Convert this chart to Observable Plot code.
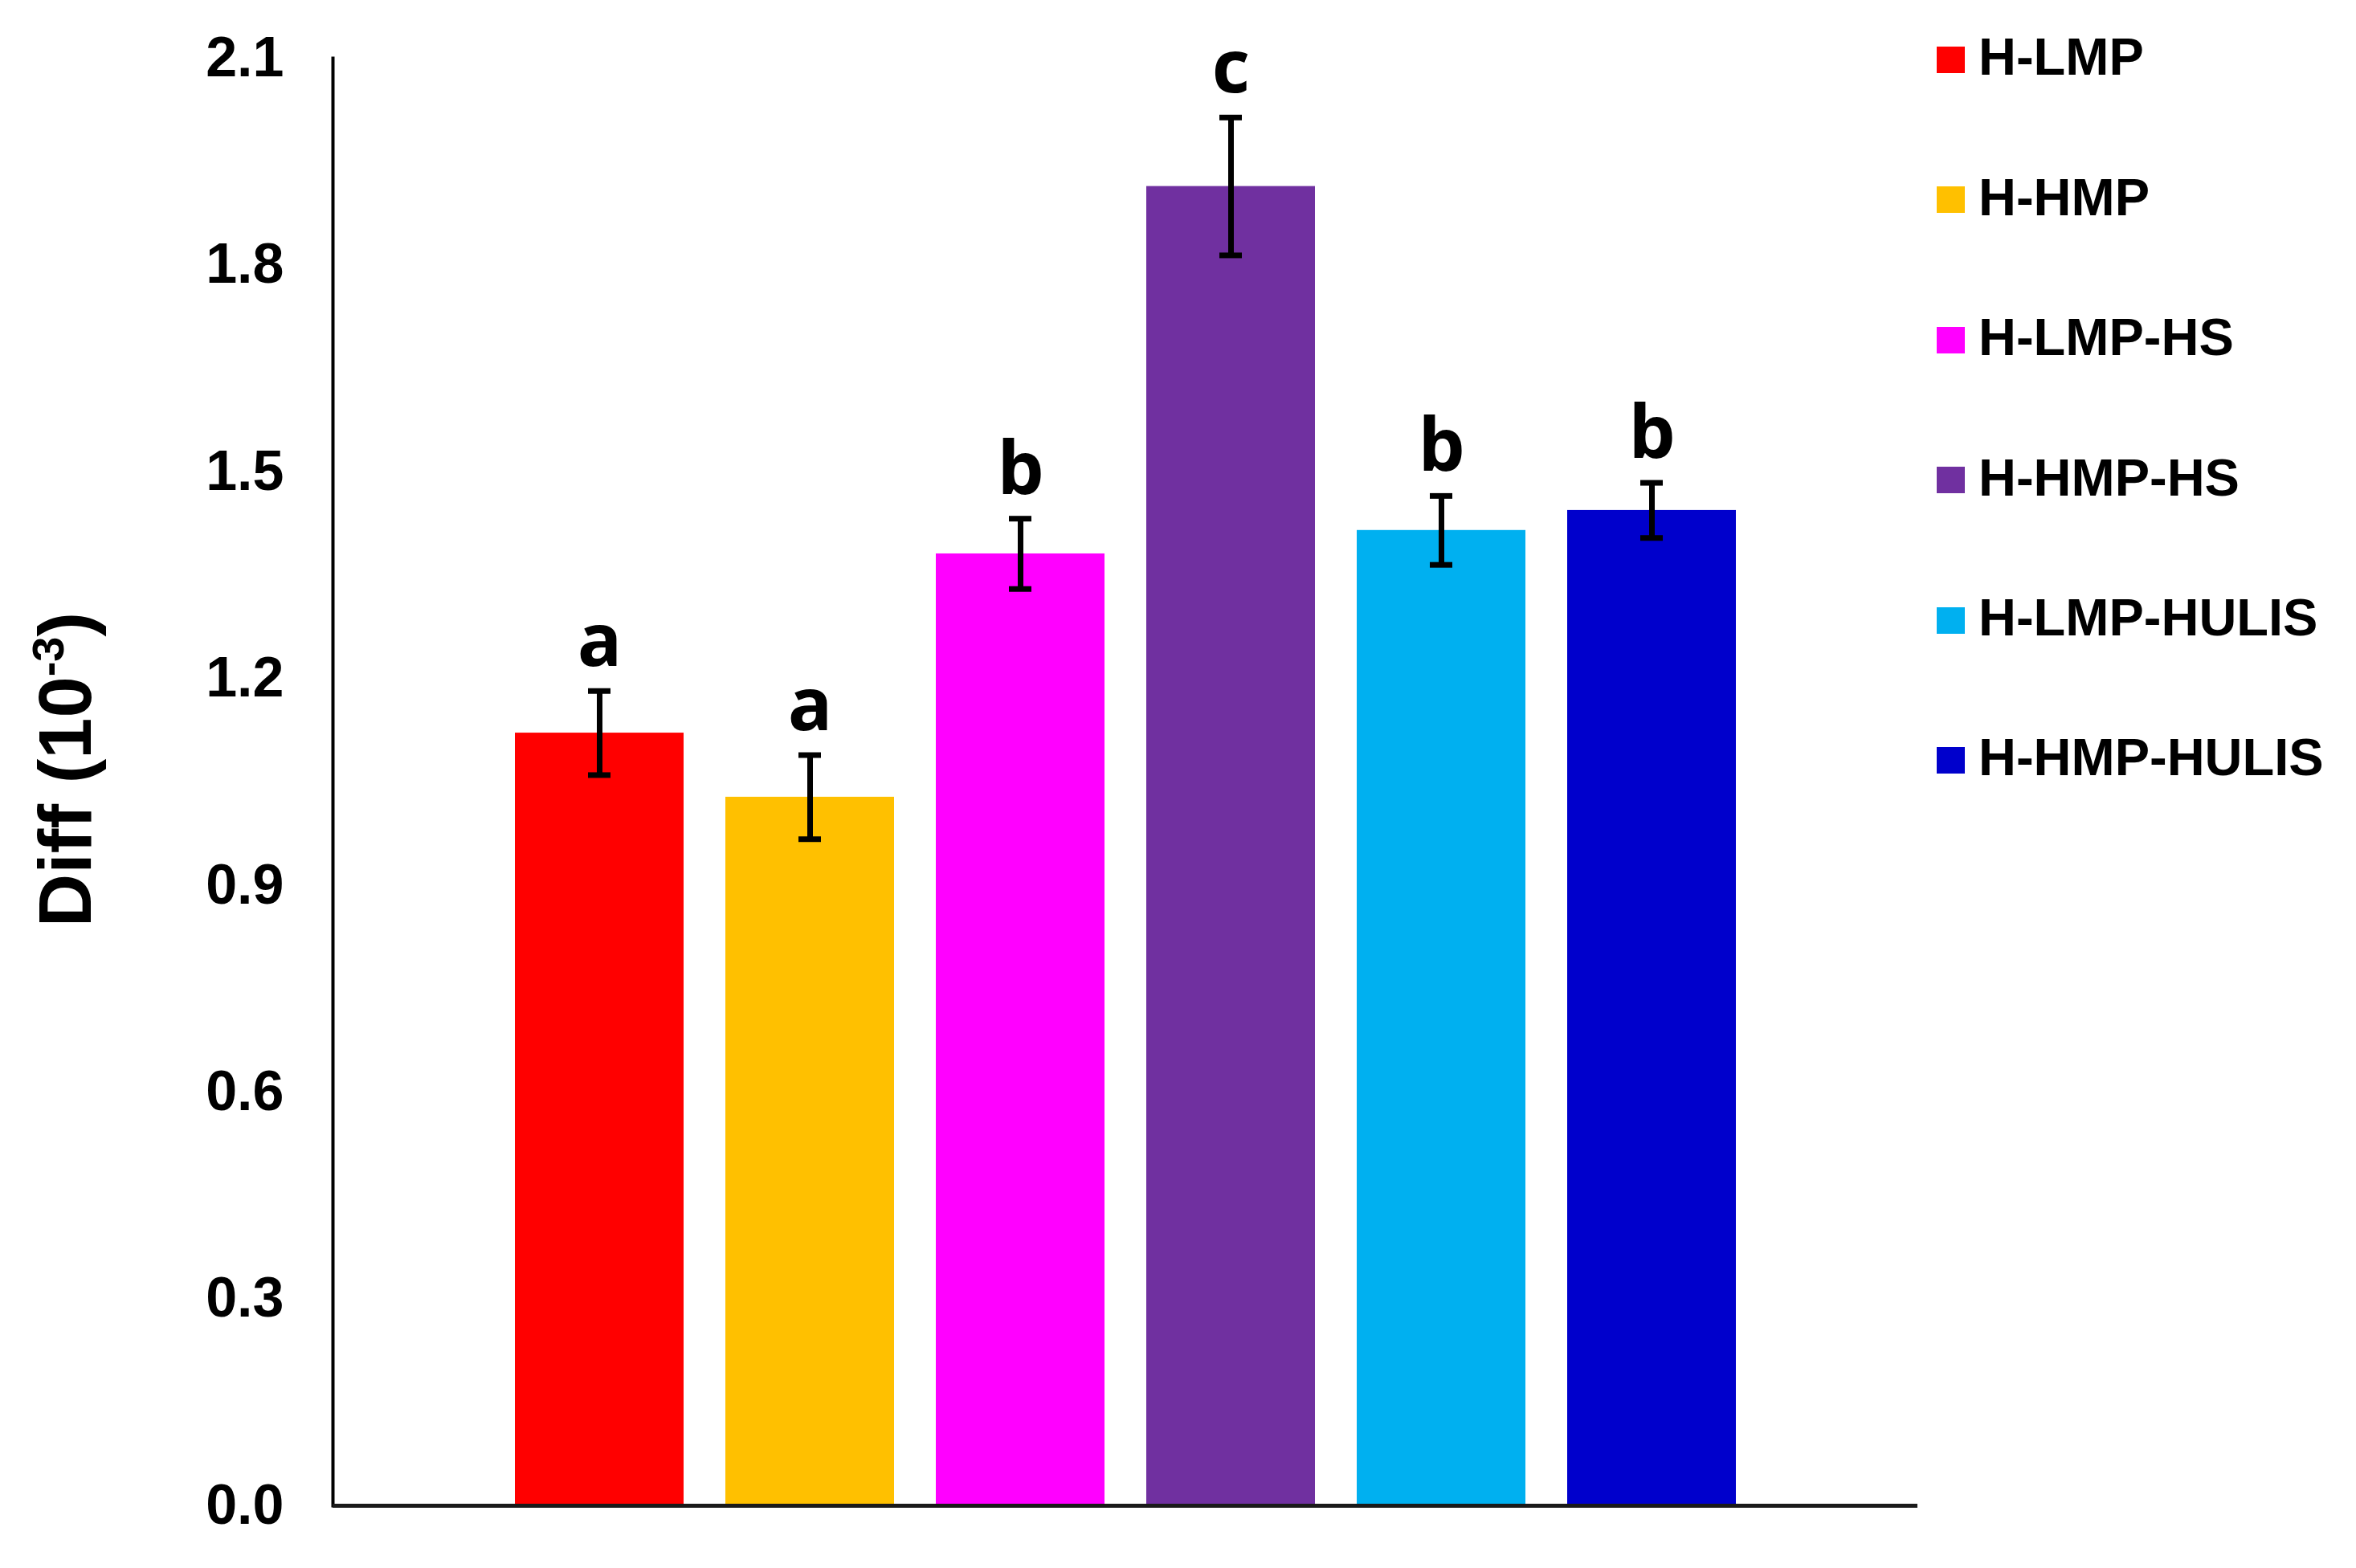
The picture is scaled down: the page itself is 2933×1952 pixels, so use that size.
<!DOCTYPE html>
<html>
<head>
<meta charset="utf-8">
<script src="https://cdn.jsdelivr.net/npm/d3@7"></script>
<script src="https://cdn.jsdelivr.net/npm/@observablehq/plot@0.6"></script>
<style>
  html, body { margin: 0; padding: 0; background: #fff; }
  #wrap { position: relative; width: 2933px; height: 1952px; }
  #legend { position: absolute; left: 2411px; top: 0; font-family: "Liberation Sans", Arial, sans-serif; font-weight: bold; font-size: 65px; color: #000; }
  .row { position: absolute; left: 0; height: 66px; line-height: 66px; display: flex; align-items: center; white-space: nowrap; }
  .sw { width: 35px; height: 33px; margin-right: 17px; margin-top: 6px; }
</style>
</head>
<body>
<div id="wrap"><div id="legend"></div></div>
<script>
// ---- data ----
const categories = ["H-LMP", "H-HMP", "H-LMP-HS", "H-HMP-HS", "H-LMP-HULIS", "H-HMP-HULIS"];
const means = [1.121, 1.028, 1.381, 1.914, 1.415, 1.444];
const errors = [0.061, 0.061, 0.051, 0.100, 0.050, 0.040];
const letters = ["a", "a", "b", "c", "b", "b"];
const colors = ["#FF0000", "#FFC000", "#FF00FF", "#7030A0", "#00B0F0", "#0000CC"];
const yTicks = [0, 0.3, 0.6, 0.9, 1.2, 1.5, 1.8, 2.1];
const yLabelMain = "Diff (10";
const yLabelSup = "-3";
const yLabelEnd = ")";

const data = categories.map((c, i) => ({cat: c, mean: means[i], err: errors[i], letter: letters[i]}));

const svg = Plot.plot({
  width: 2933,
  height: 1952,
  marginLeft: 414,
  marginRight: 546,
  marginTop: 72,
  marginBottom: 78,
  style: {background: "#fff", fontFamily: "'Liberation Sans', Arial, sans-serif", overflow: "visible"},
  x: {domain: categories, paddingInner: 0.2, paddingOuter: 0.865, axis: null},
  y: {domain: [0, 2.1]},
  color: {domain: categories, range: colors},
  marks: [
    Plot.barY(data, {x: "cat", y: "mean", fill: "cat"}),
    Plot.ruleX(data, {x: "cat", y1: d => d.mean - d.err, y2: d => d.mean + d.err, stroke: "#000", strokeWidth: 7}),
    Plot.tickY(data, {x: "cat", y: d => d.mean - d.err, stroke: "#000", strokeWidth: 7, insetLeft: 91, insetRight: 91}),
    Plot.tickY(data, {x: "cat", y: d => d.mean + d.err, stroke: "#000", strokeWidth: 7, insetLeft: 91, insetRight: 91}),
    Plot.text(data, {x: "cat", y: d => d.mean + d.err, text: "letter", lineAnchor: "bottom", dy: -31,
      fontSize: 92, fontWeight: 700, fontFamily: "'Open Sans', sans-serif", fill: "#000"}),
    Plot.axisY({ticks: yTicks, tickFormat: d3.format(".1f"), tickSize: 0, tickPadding: 61,
      fontSize: 70, fontWeight: "bold", label: null, fill: "#000"}),
    Plot.frame({anchor: "left", stroke: "#000", strokeWidth: 4}),
    Plot.ruleY([0], {stroke: "#1a1a1a", strokeWidth: 5})
  ]
});

// y-axis title with superscript
const t = d3.select(svg).append("text")
  .attr("transform", "translate(113,958) rotate(-90)")
  .attr("text-anchor", "middle")
  .attr("font-family", "'Liberation Sans', Arial, sans-serif")
  .attr("font-weight", "bold")
  .attr("font-size", 92)
  .attr("fill", "#000");
t.append("tspan").text(yLabelMain);
t.append("tspan").attr("font-size", 56).attr("dy", -34).text(yLabelSup);
t.append("tspan").attr("dy", 34).text(yLabelEnd);

document.getElementById("wrap").prepend(svg);
svg.style.position = "absolute";
svg.style.left = "0";
svg.style.top = "0";

// legend
const legend = d3.select("#legend");
categories.forEach((c, i) => {
  const row = legend.append("div").attr("class", "row").style("top", (71.4 + i * 174.4 - 33) + "px");
  row.append("div").attr("class", "sw").style("background", colors[i]);
  row.append("span").text(c);
});
</script>
</body>
</html>
